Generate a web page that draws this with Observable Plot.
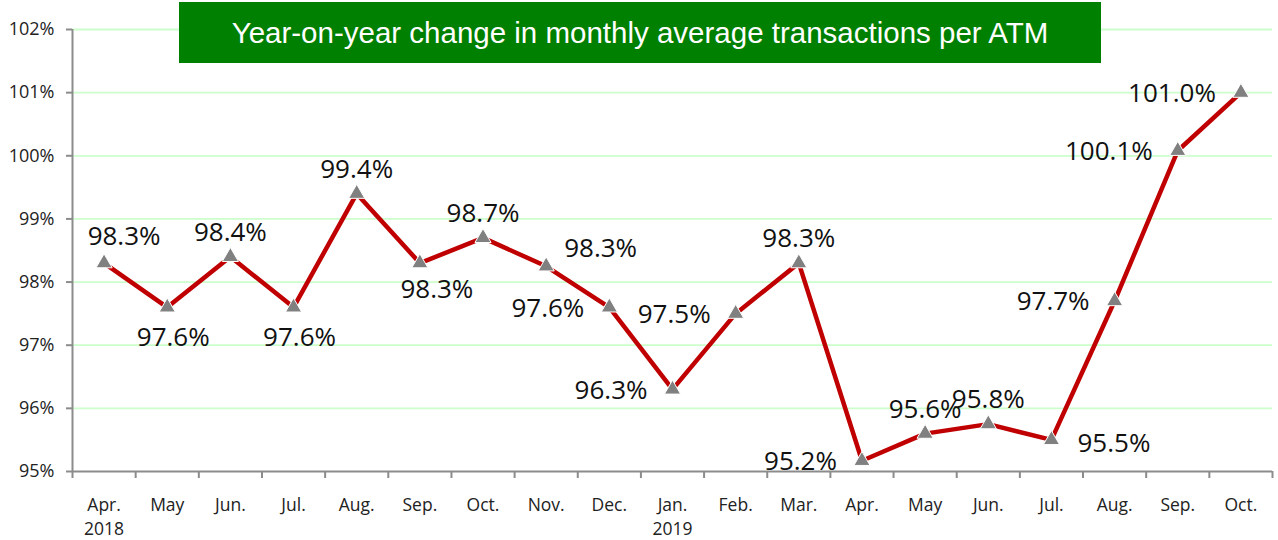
<!DOCTYPE html>
<html>
<head>
<meta charset="utf-8">
<script src="https://cdn.jsdelivr.net/npm/d3@7"></script>
<script src="https://cdn.jsdelivr.net/npm/@observablehq/plot@0.6"></script>
<style>
  html, body { margin: 0; padding: 0; background: #fff; }
  #wrap { position: relative; width: 1278px; height: 540px; }
  #title {
    position: absolute; left: 179px; top: 2px; width: 922px; height: 61px;
    background: #008000; color: #fff;
    font-family: "Liberation Sans", Arial, sans-serif; font-size: 29.5px;
    display: flex; align-items: center; justify-content: center;
    z-index: 2;
  }
</style>
</head>
<body>
<div id="wrap">
  <div id="title">Year-on-year change in monthly average transactions per ATM</div>
  <div id="chart"></div>
</div>
<script>
// Categories (x-axis labels; "\n" separates the year line)
const months = ["Apr.\n2018", "May", "Jun.", "Jul.", "Aug.", "Sep.", "Oct.", "Nov.", "Dec.",
                "Jan.\n2019", "Feb.", "Mar.", "Apr.", "May", "Jun.", "Jul.", "Aug.", "Sep.", "Oct."];
// Series values (%)
const values = [98.3, 97.6, 98.4, 97.6, 99.4, 98.3, 98.7, 98.25, 97.6,
                96.3, 97.5, 98.3, 95.17, 95.6, 95.75, 95.5, 97.7, 100.08, 101.0];
// Y tick values (%)
const yTicks = [95, 96, 97, 98, 99, 100, 101, 102];
// Data label placement relative to each point
const labelPlace = ["tr", "b", "t", "b", "t", "br", "t", "rt", "l",
                    "l", "l", "t", "l", "t", "t", "r", "l", "l", "l"];

const placeStyle = {
  t:  {dx: 0,   dy: -24, anchor: "middle"},
  b:  {dx: 6,   dy: 30,  anchor: "middle"},
  tr: {dx: 20,  dy: -26, anchor: "middle"},
  br: {dx: 17,  dy: 27,  anchor: "middle"},
  rt: {dx: 18,  dy: -18, anchor: "start"},
  l:  {dx: -25, dy: 1,   anchor: "end"},
  r:  {dx: 26,  dy: 4,   anchor: "start"}
};

const pts = values.map((v, i) => ({i, v, place: labelPlace[i]}));
const bounds = d3.range(months.length + 1).map(k => k - 0.5);

const labelMarks = Object.entries(placeStyle).map(([key, s]) =>
  Plot.text(pts.filter(d => d.place === key), {
    x: "i", y: "v", text: d => d.v.toFixed(1) + "%",
    dx: s.dx, dy: s.dy, textAnchor: s.anchor,
    fontSize: 26, fill: "#111"
  })
);

const chart = Plot.plot({
  width: 1278, height: 540,
  marginLeft: 72, marginRight: 6, marginTop: 29, marginBottom: 69,
  style: {fontFamily: "'Open Sans', 'Noto Sans', sans-serif", background: "#fff"},
  x: {type: "linear", domain: [-0.5, months.length - 0.5], axis: null},
  y: {domain: [95, 102], axis: null},
  marks: [
    Plot.ruleY(yTicks.filter(d => d > 95), {stroke: "#ccffcc", strokeWidth: 1.8}),
    Plot.axisY(yTicks, {label: null, tickSize: 6, tickPadding: 12, tickFormat: d => d + "%", fontSize: 18,
                        stroke: "#8c8c8c", strokeWidth: 2, color: "#222"}),
    Plot.axisX(bounds, {label: null, tickSize: 7, tickFormat: () => "", stroke: "#8c8c8c", strokeWidth: 2}),
    Plot.ruleX([-0.5], {stroke: "#8c8c8c", strokeWidth: 2}),
    Plot.ruleY([95], {stroke: "#8c8c8c", strokeWidth: 2}),
    Plot.text(months, {x: (d, i) => i, frameAnchor: "bottom", text: d => d, lineAnchor: "top",
                       dy: 22, fontSize: 17.5, lineHeight: 1.4, fill: "#222"}),
    Plot.line(pts, {x: "i", y: "v", stroke: "#c00000", strokeWidth: 4.5}),
    Plot.dot(pts, {x: "i", y: "v", symbol: "triangle", r: 6, fill: "#808080", stroke: "#fff", strokeWidth: 1}),
    ...labelMarks
  ]
});
document.getElementById("chart").appendChild(chart);
</script>
</body>
</html>
